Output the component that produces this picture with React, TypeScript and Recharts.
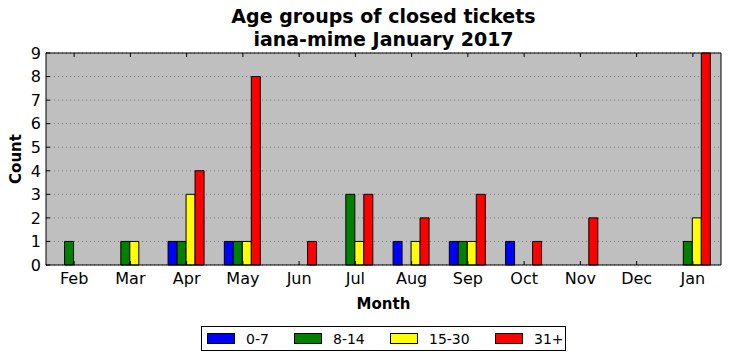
import React from 'react';
import { BarChart, Bar, XAxis, YAxis, CartesianGrid } from 'recharts';

const months = ['Feb', 'Mar', 'Apr', 'May', 'Jun', 'Jul', 'Aug', 'Sep', 'Oct', 'Nov', 'Dec', 'Jan'];
const age0to7 = [0, 0, 1, 1, 0, 0, 1, 1, 1, 0, 0, 0];
const age8to14 = [1, 1, 1, 1, 0, 3, 0, 1, 0, 0, 0, 1];
const age15to30 = [0, 1, 3, 1, 0, 1, 1, 1, 0, 0, 0, 2];
const age31plus = [0, 0, 4, 8, 1, 3, 2, 3, 1, 2, 0, 9];
const yTicks = [0, 1, 2, 3, 4, 5, 6, 7, 8, 9];

const seriesNames = ['0-7', '8-14', '15-30', '31+'];
const seriesColors = ['#0000ff', '#008000', '#ffff00', '#ff0000'];
const seriesKeys = ['a', 'b', 'c', 'd'];

const data = months.map((m, i) => ({
  month: m,
  a: age0to7[i],
  b: age8to14[i],
  c: age15to30[i],
  d: age31plus[i],
}));

const FONT = '"DejaVu Sans", sans-serif';
const TICK_LEN = 4;

const LeftTick = (props: any) => {
  const { x, y, payload } = props;
  return (
    <g>
      <line x1={x + 5} x2={x + 5 + TICK_LEN} y1={y} y2={y} stroke="#000" strokeWidth={1} />
      <text x={x} y={y} dy="0.36em" textAnchor="end" fill="#000" fontSize={16} fontFamily={FONT}>
        {payload.value}
      </text>
    </g>
  );
};

const RightTick = (props: any) => {
  const { x, y } = props;
  return <line x1={x - TICK_LEN} x2={x} y1={y} y2={y} stroke="#000" strokeWidth={1} />;
};

const BottomTick = (props: any) => {
  const { x, y, payload } = props;
  return (
    <g>
      <line x1={x} x2={x} y1={y - 7} y2={y - 7 - TICK_LEN} stroke="#000" strokeWidth={1} />
      <text x={x} y={y} dy="0.76em" textAnchor="middle" fill="#000" fontSize={16} fontFamily={FONT}>
        {payload.value}
      </text>
    </g>
  );
};

const TopTick = (props: any) => {
  const { x, y } = props;
  return <line x1={x} x2={x} y1={y} y2={y + TICK_LEN} stroke="#000" strokeWidth={1} />;
};

export default function App() {
  return (
    <div style={{ position: 'absolute', left: 0, top: 0, width: 731, height: 361, background: '#fff', fontFamily: FONT }}>
      <div style={{ position: 'absolute', left: 0, width: 767, top: 5, textAlign: 'center', fontWeight: 'bold', fontSize: 19, lineHeight: '23px', color: '#000' }}>
        Age groups of closed tickets<br />iana-mime January 2017
      </div>
      <BarChart
        width={731}
        height={361}
        data={data}
        margin={{ top: 52, right: 9, left: 0, bottom: 56 }}
        barCategoryGap="17%"
        barGap={0}
      >
        <CartesianGrid
          horizontal={true}
          vertical={false}
          xAxisId="bottom"
          yAxisId="left"
          fill="#bfbfbf"
          stroke="#7a7a7a"
          strokeDasharray="1 3"
          fillOpacity={1}
        />
        <XAxis
          dataKey="month"
          xAxisId="bottom"
          height={40}
          tickSize={0}
          tickMargin={7}
          axisLine={{ stroke: '#000', strokeWidth: 1 }}
          tickLine={false}
          tick={<BottomTick />}
          interval={0}
        />
        <XAxis
          dataKey="month"
          xAxisId="top"
          orientation="top"
          height={1}
          tickSize={0}
          tickMargin={0}
          axisLine={{ stroke: '#000', strokeWidth: 1 }}
          tickLine={false}
          tick={<TopTick />}
          interval={0}
        />
        <YAxis
          yAxisId="left"
          width={46}
          domain={[0, 9]}
          ticks={yTicks}
          interval={0}
          tickSize={0}
          tickMargin={5}
          axisLine={{ stroke: '#000', strokeWidth: 1 }}
          tickLine={false}
          tick={<LeftTick />}
        />
        <YAxis
          yAxisId="right"
          orientation="right"
          width={1}
          domain={[0, 9]}
          ticks={yTicks}
          interval={0}
          tickSize={0}
          tickMargin={0}
          axisLine={{ stroke: '#000', strokeWidth: 1 }}
          tickLine={false}
          tick={<RightTick />}
        />
        {seriesKeys.map((k, i) => (
          <Bar
            key={k}
            dataKey={k}
            name={seriesNames[i]}
            xAxisId="bottom"
            yAxisId="left"
            fill={seriesColors[i]}
            stroke="#000"
            strokeWidth={1}
            isAnimationActive={false}
          />
        ))}
      </BarChart>
      <div style={{ position: 'absolute', left: 0, width: 767, top: 295, textAlign: 'center', fontWeight: 'bold', fontSize: 15, color: '#000' }}>
        Month
      </div>
      <div style={{ position: 'absolute', left: 16, top: 159, transform: 'translate(-50%, -50%) rotate(-90deg)', fontWeight: 'bold', fontSize: 15, color: '#000', whiteSpace: 'nowrap' }}>
        Count
      </div>
      <div style={{ position: 'absolute', left: 201, top: 326, width: 363, height: 23, border: '1px solid #000', background: '#fff' }}>
        {seriesNames.map((n, i) => (
          <div key={n} style={{ position: 'absolute', left: [5, 92, 188, 293][i], top: 0, height: 23, display: 'flex', alignItems: 'center', fontSize: 14, color: '#000' }}>
            <span style={{ display: 'inline-block', width: 26, height: 9, background: seriesColors[i], border: '1px solid #000', marginRight: 11 }} />
            <span>{n}</span>
          </div>
        ))}
      </div>
    </div>
  );
}
